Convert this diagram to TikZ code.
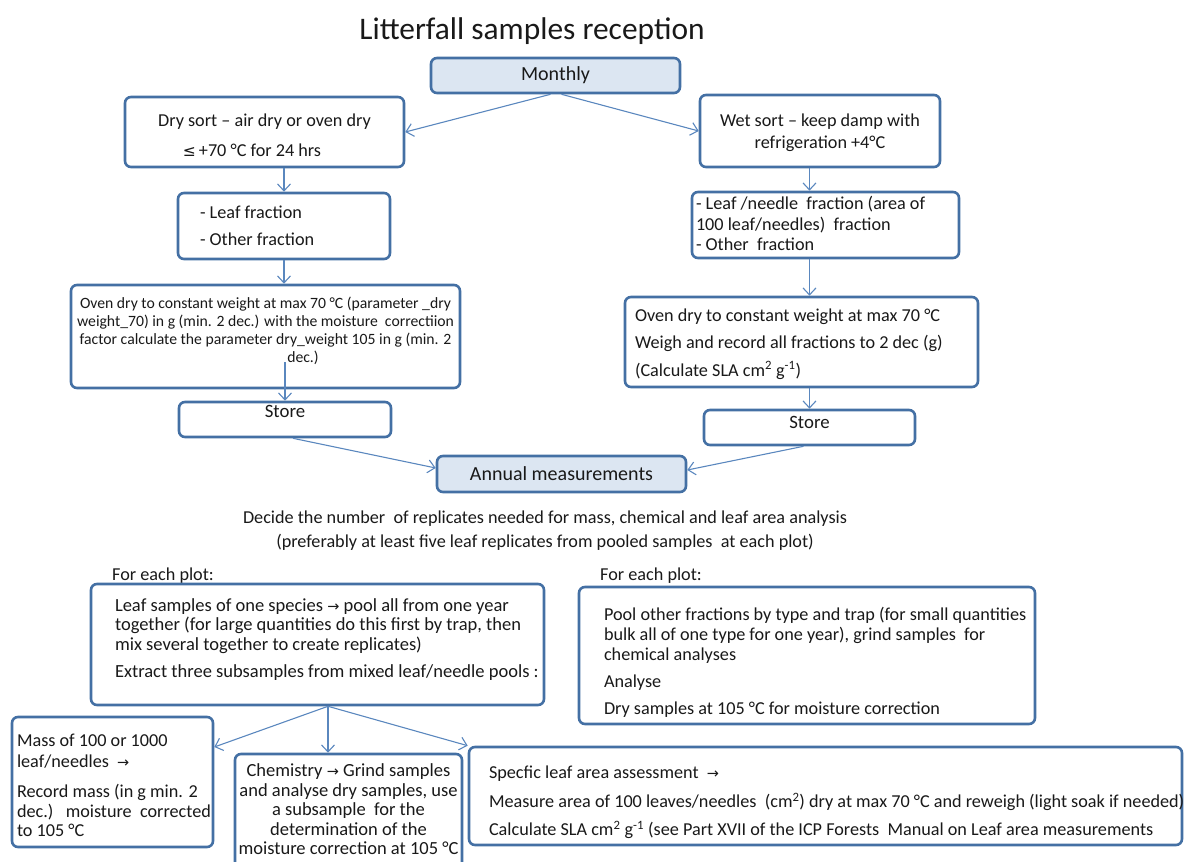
\documentclass[tikz,border=0pt]{standalone}
\usepackage{fontspec}
\usepackage{graphicx}
\setmainfont{Carlito}
\newfontfamily\dejavu{DejaVu Sans}
\usetikzlibrary{arrows.meta,calc}
\definecolor{bcol}{RGB}{68,112,164}
\definecolor{acol}{RGB}{90,135,190}
\definecolor{fcol}{RGB}{220,230,242}
\definecolor{tcol}{RGB}{25,25,25}
\newcommand\tl[3]{\raisebox{#1}[\height][\depth]{\makebox[#2][l]{\parbox{1500pt}{\raggedright\strut#3\strut}}}}
\newcommand\tc[3]{\raisebox{#1}[\height][\depth]{\parbox{#2}{\centering\strut#3\strut}}}
\newcommand\ra{{\dejavu\fontsize{14.5}{14}\selectfont →}}
\newcommand\leqs{{\dejavu\fontsize{15.5}{15}\selectfont ≤}}
\begin{document}
\begin{tikzpicture}[x=1pt,y=-1pt,
  box/.style={draw=bcol, line width=2.6pt, rounded corners=6pt, fill=white, inner sep=0pt, text=tcol, font=\fontsize{18.2}{20}\selectfont},
  hbox/.style={box, fill=fcol, font=\fontsize{20}{22}\selectfont},
  arr/.style={draw=acol, line width=1.1pt, -{Straight Barb[length=7pt,width=13pt]}},
  txt/.style={inner sep=0pt, text=tcol, font=\fontsize{18.2}{20}\selectfont}]
\useasboundingbox (0,0) rectangle (1184,862);
\node[txt, font=\fontsize{31.4}{33}\selectfont] (title) at (532,31) {Litterfall samples reception};
\node[hbox, minimum width=249pt, minimum height=35pt] (monthly) at (555.5,75.5) {\raisebox{-2pt}{Monthly}};
\node[box, minimum width=279pt, minimum height=70pt] (dry) at (264.5,132) {\tc{-5pt}{270pt}{Dry sort – air dry or oven dry\\[10pt]\hspace*{-25pt}\leqs\,+70 °C for 24 hrs}};
\node[box, minimum width=240pt, minimum height=72pt] (wet) at (820,131) {\tc{-2pt}{236pt}{Wet sort – keep damp with\\[2pt]refrigeration +4°C}};
\node[box, minimum width=212pt, minimum height=66pt] (leaffrac) at (284,226) {\tl{-1.5pt}{168pt}{- Leaf fraction\\[7pt]- Other fraction}};
\node[box, minimum width=267pt, minimum height=66pt] (leafneedle) at (825.5,225) {\tl{-1pt}{259pt}{- Leaf /needle\ \ fraction (area of\\[0.5pt]100 leaf/needles)\ \ fraction\\[0.5pt]- Other\ \ fraction}};
\node[box, minimum width=389pt, minimum height=103pt, font=\fontsize{15.7}{18}\selectfont] (ovenL) at (265.5,336.5) {\tc{5pt}{387pt}{Oven dry to constant weight at max 70 °C (parameter \_dry\\weight\_70) in g (min. 2 dec.) with the moisture\ \ correctiion\\factor calculate the parameter dry\_weight 105 in g (min. 2\\\hspace*{75pt}dec.)}};
\node[box, minimum width=353pt, minimum height=90pt] (ovenR) at (801.5,342) {\tl{-2.5pt}{333pt}{Oven dry to constant weight at max 70 °C\\[7.5pt]Weigh and record all fractions to 2 dec (g)\\[7.5pt](Calculate SLA cm\textsuperscript{2} g\textsuperscript{-1})}};
\node[box, minimum width=212pt, minimum height=35pt, font=\fontsize{18.8}{20}\selectfont] (storeL) at (285,419.5) {\tc{6.5pt}{200pt}{Store}};
\node[box, minimum width=211pt, minimum height=35pt, font=\fontsize{18.8}{20}\selectfont] (storeR) at (809.5,427.5) {\tc{3.5pt}{200pt}{Store}};
\node[hbox, minimum width=249pt, minimum height=36pt] (annual) at (561.5,474) {Annual measurements};
\node[txt] (decide) at (545,531) {\tc{0pt}{660pt}{Decide the number\ \ of replicates needed for mass, chemical and leaf area analysis\\[4pt](preferably at least five leaf replicates from pooled samples\ \ at each plot)}};
\node[txt, anchor=west] (plotL) at (112,576) {\strut For each plot:};
\node[txt, anchor=west] (plotR) at (600,576) {\strut For each plot:};
\node[box, minimum width=453pt, minimum height=121pt, font=\fontsize{18.5}{20}\selectfont] (leafS) at (317.5,644.5) {\tl{4.5pt}{405pt}{Leaf samples of one species \ra{} pool all from one year\\[-0.5pt]together (for large quantities do this first by trap, then\\[-0.5pt]mix several together to create replicates)\\[7pt]Extract three subsamples from mixed leaf/needle pools :}};
\node[box, minimum width=456pt, minimum height=137pt] (pool) at (807,655.5) {\tl{-8pt}{406pt}{Pool other fractions by type and trap (for small quantities\\bulk all of one type for one year), grind samples\ \ for\\chemical analyses\\[7pt]Analyse\\[7pt]Dry samples at 105 °C for moisture correction}};
\node[box, minimum width=201pt, minimum height=130pt] (mass) at (112.5,782) {\tl{-5pt}{191pt}{Mass of 100 or 1000\\[1pt]leaf/needles\ \ \ra\\[10pt]Record mass (in g min. 2\\dec.)\ \ \ moisture\ \ corrected\\[-1pt]to 105 °C}};
\node[box, minimum width=227pt, minimum height=118pt, font=\fontsize{18.5}{20}\selectfont] (chem) at (348.5,813) {\tc{1.5pt}{227pt}{Chemistry \ra{} Grind samples\\[-0.5pt]and analyse dry samples, use\\[-0.5pt]a subsample\ \ for the\\[-0.5pt]determination of the\\[-0.5pt]moisture correction at 105 °C}};
\node[box, minimum width=713pt, minimum height=98pt] (sla) at (825.5,796) {\tl{-7pt}{673pt}{Specfic leaf area assessment\ \ \ra\\[7.5pt]Measure area of 100 leaves/needles\ \ (cm\textsuperscript{2}) dry at max 70 °C and reweigh (light soak if needed)\\[7.5pt]Calculate SLA cm\textsuperscript{2} g\textsuperscript{-1} (see Part XVII of the ICP Forests\ \ Manual on Leaf area measurements}};
\draw[arr] ([xshift=-5pt]monthly.south) -- (dry.east);
\draw[arr] ([xshift=6pt]monthly.south) -- (wet.west);
\draw[arr] (leaffrac.north |- dry.south) -- (leaffrac.north);
\draw[arr] (leaffrac.south) -- (leaffrac.south |- ovenL.north);
\coordinate (ovl) at (285,362);
\draw[arr] (ovl) -- (storeL.north);
\draw[arr] (storeR.north |- wet.south) -- (storeR.north |- leafneedle.north);
\draw[arr] (storeR.north |- leafneedle.south) -- (storeR.north |- ovenR.north);
\draw[arr] (storeR.north |- ovenR.south) -- (storeR.north);
\draw[arr] ([xshift=8pt]storeL.south) -- ([yshift=6pt]annual.west);
\draw[arr] ([xshift=-6pt]storeR.south) -- ([yshift=4pt]annual.east);
\coordinate (br) at ([xshift=10.5pt]leafS.south);
\draw[arr] (br) -- ([yshift=35pt]mass.east);
\draw[arr] (br) -- (br |- chem.north);
\draw[arr] (br) -- (sla.north west);
\end{tikzpicture}
\end{document}
